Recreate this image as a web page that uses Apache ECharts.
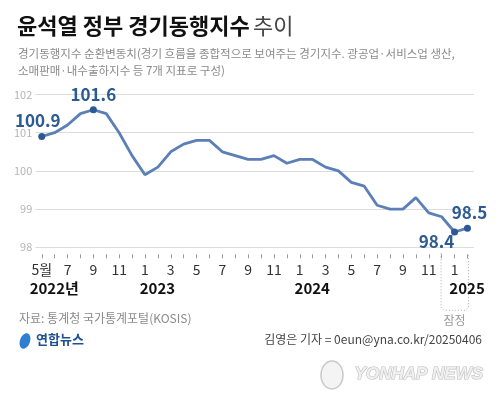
<!DOCTYPE html>
<html><head><meta charset="utf-8">
<script src="https://cdn.jsdelivr.net/npm/echarts@6/dist/echarts.min.js"></script>
<style>html,body{margin:0;padding:0;background:#fff}#c{width:500px;height:403px}</style>
</head><body><div id="c"></div>
<script>
const FONT = "'Noto Sans CJK KR', 'Noto Sans', sans-serif";
const monthLabels = ['5월','6','7','8','9','10','11','12',
  '1','2','3','4','5','6','7','8','9','10','11','12',
  '1','2','3','4','5','6','7','8','9','10','11','12',
  '1','2'];
const values = [100.9,101.0,101.2,101.5,101.6,101.5,101.0,100.4,
  99.9,100.1,100.5,100.7,100.8,100.8,100.5,100.4,100.3,100.3,100.4,100.2,
  100.3,100.3,100.1,100.0,99.7,99.6,99.1,99.0,99.0,99.3,98.9,98.8,
  98.4,98.5];
const yearIdx = [0, 8, 20, 32];
const yearNames = ['2022년','2023','2024','2025'];
const yTicks = [98, 99, 100, 101, 102];
const labeled = [0, 4, 32, 33];
const provisionalIdx = [32, 33];

const labelStyle = {
  0: {position: 'top', offset: [-4, 0], distance: 4},
  4: {position: 'top', offset: [0, 0], distance: 3},
  32: {position: 'bottom', offset: [-18, -5], distance: 3},
  33: {position: 'top', offset: [2, 0], distance: 4}
};

const seriesData = values.map((v, i) => {
  if (labeled.indexOf(i) >= 0) {
    return {value: v, symbol: 'circle', symbolSize: 7,
      label: Object.assign({show: true, formatter: String(v)}, labelStyle[i])};
  }
  return {value: v, symbol: 'none'};
});

const chart = echarts.init(document.getElementById('c'), null, {renderer: 'canvas'});
const option = {
  backgroundColor: '#fff',
  animation: false,
  textStyle: {fontFamily: FONT},
  grid: {left: 35.3, right: 26.1, top: 94.5, bottom: 155.7},
  xAxis: [{
    type: 'category', data: monthLabels, boundaryGap: true, position: 'bottom', offset: 7,
    axisLine: {show: false},
    axisTick: {show: true, alignWithLabel: true, interval: 0, length: 4, lineStyle: {color: '#999'}},
    axisLabel: {interval: 1, color: '#333', fontSize: 14, margin: 8, fontFamily: FONT}
  }, {
    type: 'category', data: monthLabels, boundaryGap: true, position: 'bottom', offset: 7,
    axisLine: {show: false}, axisTick: {show: false},
    axisLabel: {interval: 0, color: '#111', fontSize: 15, fontWeight: 'bold', margin: 26,
      padding: [0, 0, 0, 25], fontFamily: FONT,
      formatter: (val, i) => { const k = yearIdx.indexOf(i); return k >= 0 ? yearNames[k] : ''; }}
  }],
  yAxis: {
    type: 'value', min: yTicks[0], max: yTicks[yTicks.length - 1], interval: 1,
    axisLine: {show: false}, axisTick: {show: false},
    axisLabel: {color: '#b5b5b5', fontSize: 11, margin: 3, fontFamily: FONT},
    splitLine: {lineStyle: {color: '#dcdcdc', width: 1}}
  },
  series: [{
    type: 'line', data: seriesData, xAxisIndex: 0,
    lineStyle: {color: '#5b7fb6', width: 2.8},
    itemStyle: {color: '#2c5896'},
    label: {color: '#2c5a92', fontSize: 17, fontWeight: 'bold', fontFamily: FONT},
    z: 3
  }],
  graphic: [
    {type: 'text', left: 17, top: 15, style: {
      text: '{b|윤석열 정부 경기동행지수} {l|추이}',
      rich: {
        b: {fontSize: 22, fontWeight: 'bold', fill: '#111', fontFamily: FONT},
        l: {fontSize: 22, fontWeight: 'normal', fill: '#444', fontFamily: FONT}
      }}},
    {type: 'text', left: 18, top: 45, style: {
      text: '경기동행지수 순환변동치(경기 흐름을 종합적으로 보여주는 경기지수. 광공업·서비스업 생산,\n소매판매·내수출하지수 등 7개 지표로 구성)',
      fontSize: 11.5, fill: '#8a8a8a', lineHeight: 17, fontFamily: FONT}},
    {type: 'text', left: 19, top: 312, style: {
      text: '자료: 통계청 국가통계포털(KOSIS)', fontSize: 12, fill: '#8a8a8a', fontFamily: FONT}},
    {type: 'ellipse', shape: {cx: 25, cy: 341, rx: 5, ry: 8}, rotation: -0.35, originX: 25, originY: 341,
      style: {fill: '#2f7fd0'}},
    {type: 'text', left: 36, top: 333, style: {
      text: '연합뉴스', fontSize: 13, fontWeight: 'bold', fill: '#1d4f91', fontFamily: FONT}},
    {type: 'text', right: 18, top: 333, style: {
      text: '김영은 기자 = 0eun@yna.co.kr/20250406', fontSize: 12, fill: '#444', fontFamily: FONT}},
    {type: 'ellipse', shape: {cx: 332, cy: 375, rx: 11, ry: 14}, style: {fill: '#f4f4f4', stroke: '#c8c8c8', lineWidth: 1.5}},
    {type: 'text', left: 354, top: 365, style: {
      text: 'YONHAP NEWS', fontSize: 17, fontWeight: 'bold', fontStyle: 'italic',
      fill: '#f0f0f0', stroke: '#bdbdbd', lineWidth: 1.2, fontFamily: "'Liberation Sans', Arial, sans-serif"}}
  ]
};
chart.setOption(option);

// provisional box around the last two months, positioned from the axis scale
const pA = chart.convertToPixel({xAxisIndex: 0, yAxisIndex: 0}, [provisionalIdx[0], yTicks[0]]);
const pB = chart.convertToPixel({xAxisIndex: 0, yAxisIndex: 0}, [provisionalIdx[1], yTicks[0]]);
const L = pA[0] - 13.5, R = pB[0] + 1, T = pA[1] + 6, B = pA[1] + 63;
chart.setOption({graphic: option.graphic.concat([
  {type: 'polyline', shape: {points: [[L, T], [L, B - 3], [L + 3, B], [R - 3, B], [R, B - 3], [R, T]]},
    style: {stroke: '#aaa', lineWidth: 1, lineDash: [1, 2], fill: null}},
  {type: 'text', x: pA[0], y: B + 10, style: {text: '잠정', fontSize: 12, fill: '#999',
    align: 'center', verticalAlign: 'middle', fontFamily: FONT}}
])});
</script></body></html>
